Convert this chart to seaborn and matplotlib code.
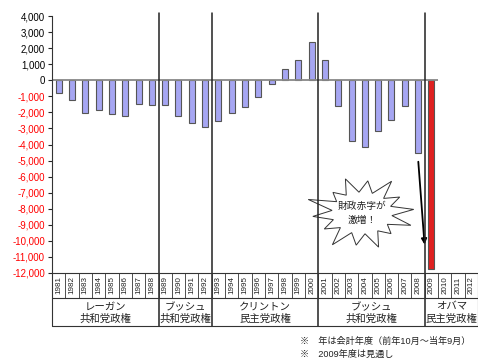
import matplotlib
matplotlib.use("Agg")
import matplotlib.pyplot as plt
from matplotlib.lines import Line2D
from matplotlib.patches import Polygon
import numpy as np
import pandas as pd
import seaborn as sns

sns.set_style("white")
plt.rcParams["font.family"] = ["Liberation Sans", "Noto Sans CJK JP", "DejaVu Sans"]

# 財政収支（億ドル）, 2010-2012 は空欄
years = [str(y) for y in range(1981, 2013)]
balance = [-790, -1260, -2060, -1870, -2120, -2210, -1500, -1550,
           -1530, -2210, -2690, -2900, -2550, -2030, -1640, -1070,
           -220, 690, 1260, 2360, 1280, -1580, -3780, -4130,
           -3180, -2480, -1610, -4550, -11750, np.nan, np.nan, np.nan]
bar_colors = ["#9999FF"] * 28 + ["#FF0000"] * 4

groups = ["レーガン\n共和党政権", "ブッシュ\n共和党政権", "クリントン\n民主党政権",
          "ブッシュ\n共和党政権", "オバマ\n民主党政権"]
group_sizes = [8, 4, 8, 8, 4]
yticks = list(range(-12000, 4001, 1000))

W, H = 478, 359
L, R, TOP, BOT = 52, 478, 16, 273
ROW1, ROW2 = 298, 326
cw = (R - L) / len(years)


def fx(px):
    return px / W


def fy(py):
    return 1 - py / H


fig = plt.figure(figsize=(W / 100, H / 100), dpi=100)
ax = fig.add_axes([fx(L), fy(BOT), (R - L) / W, (BOT - TOP) / H])

df = pd.DataFrame({"year": years, "balance": balance})
sns.barplot(data=df, x="year", y="balance", hue="year", order=years,
            palette=dict(zip(years, bar_colors)), legend=False, width=0.45,
            edgecolor="#555555", linewidth=0.8, ax=ax)

ax.set_xlim(-0.5, len(years) - 0.5)
ax.set_ylim(-12000, 4000)
ax.set_xticks([])
ax.set_xlabel("")
ax.set_ylabel("")
ax.set_yticks(yticks)
ax.set_yticklabels([f"{v:,}" for v in yticks], fontsize=7)
for lab, v in zip(ax.get_yticklabels(), yticks):
    lab.set_color("red" if v < 0 else "black")
ax.tick_params(axis="y", length=3, width=0.8, pad=2, direction="out", left=True)
for s in ["top", "right", "bottom"]:
    ax.spines[s].set_visible(False)
ax.spines["left"].set_color("#333333")
ax.spines["left"].set_linewidth(0.8)

# ゼロ線
ax.hlines(0, -0.5, 28.5, color="#888888", lw=1.3, zorder=1)

# 政権の区切り線
bounds = np.cumsum(group_sizes)
for b in bounds[:-1]:
    x = L + b * cw
    fig.add_artist(Line2D([fx(x), fx(x)], [fy(13), fy(ROW2)], color="#222222", lw=1.1))

# 下の表
fig.add_artist(Line2D([fx(L), fx(L)], [fy(BOT), fy(ROW2)], color="#333333", lw=0.8))
fig.add_artist(Line2D([fx(R) - 0.001, fx(R) - 0.001], [fy(BOT), fy(ROW2)], color="#333333", lw=0.8))
for py in [BOT, ROW1, ROW2]:
    fig.add_artist(Line2D([fx(L), fx(R)], [fy(py), fy(py)], color="#333333", lw=0.8))
for i, yr in enumerate(years):
    x0 = L + i * cw
    fig.add_artist(Line2D([fx(x0), fx(x0)], [fy(BOT), fy(ROW1)], color="#333333", lw=0.6))
    fig.text(fx(x0 + cw / 2), fy((BOT + ROW1) / 2), yr, rotation=90,
             ha="center", va="center", fontsize=5.8, color="#222222")
start = 0
for name, n in zip(groups, group_sizes):
    xc = L + (start + n / 2) * cw
    fig.text(fx(xc), fy((ROW1 + ROW2) / 2 + 1), name, ha="center", va="center",
             fontsize=7.5, linespacing=1.25, color="#222222")
    start += n

# 注記
fig.text(fx(300), fy(341), "※　年は会計年度（前年10月～当年9月）", fontsize=6.6,
         va="center", color="#222222")
fig.text(fx(300), fy(354), "※　2009年度は見通し", fontsize=6.6, va="center", color="#222222")

# 爆発マーク
cx, cy = 362, 213
n_pts = 14
ang = np.linspace(0, 2 * np.pi, 2 * n_pts, endpoint=False) + 0.1
outer = [1.0, 0.85, 1.05, 0.9, 1.0, 0.8, 1.1, 0.95, 0.85, 1.05, 0.9, 1.0, 0.8, 1.0]
rads = np.array([outer[k // 2] if k % 2 == 0 else 0.58 for k in range(2 * n_pts)])
pts = [(fx(cx + 52 * r * np.cos(a)), fy(cy - 36 * r * np.sin(a))) for r, a in zip(rads, ang)]
fig.add_artist(Polygon(pts, closed=True, facecolor="white", edgecolor="#333333",
                       lw=0.7, transform=fig.transFigure))
fig.text(fx(cx), fy(cy), "財政赤字が\n激増！", ha="center", va="center",
         fontsize=7, linespacing=1.5, color="#222222")

# 矢印
ax.annotate("", xy=(27.5, -10400), xytext=(27.0, -4900),
            arrowprops=dict(arrowstyle="-|>", color="black", lw=1.3, mutation_scale=8))

fig.savefig("out.png", dpi=100)
